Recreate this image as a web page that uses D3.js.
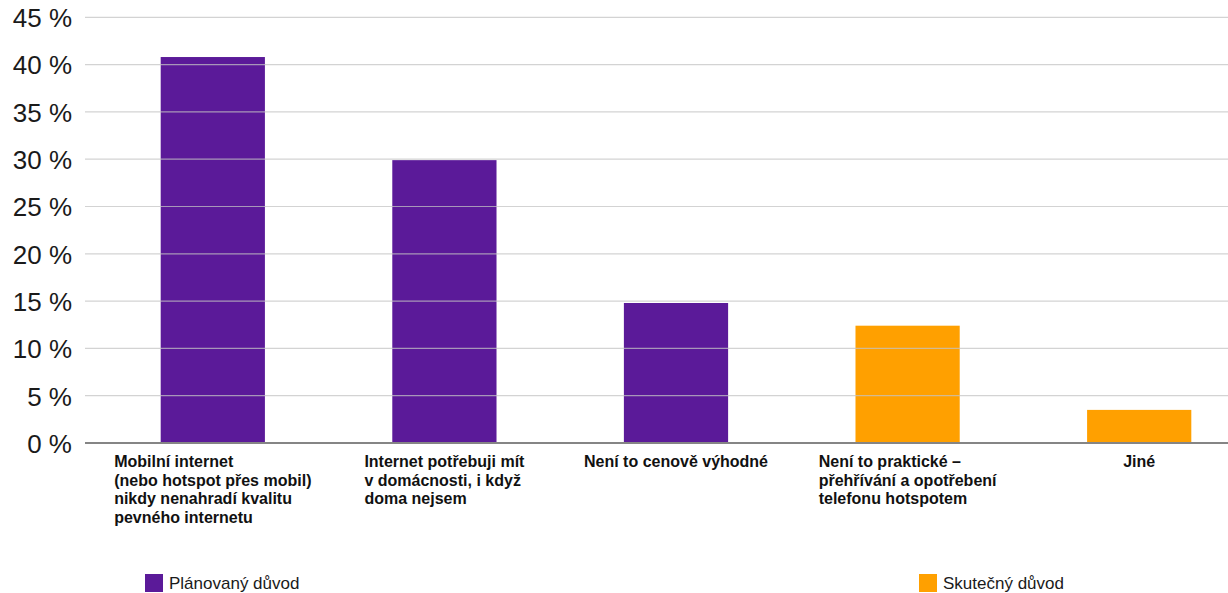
<!DOCTYPE html>
<html lang="cs">
<head>
<meta charset="utf-8">
<script src="https://cdn.jsdelivr.net/npm/d3@7"></script>
<style>
  html, body { margin: 0; padding: 0; background: #fff; }
  svg { display: block; font-family: "Liberation Sans", Arial, Helvetica, sans-serif; }
</style>
</head>
<body>
<svg id="chart" width="1228" height="593"></svg>
<script>
// Category labels, one entry per line of the wrapped label
const categories = [
  ["Mobilní internet", "(nebo hotspot přes mobil)", "nikdy nenahradí kvalitu", "pevného internetu"],
  ["Internet potřebuji mít", "v domácnosti, i když", "doma nejsem"],
  ["Není to cenově výhodné"],
  ["Není to praktické –", "přehřívání a opotřebení", "telefonu hotspotem"],
  ["Jiné"]
];
// Share of respondents (%)
const values = [40.8, 29.9, 14.8, 12.4, 3.5];
// Which reason type each bar belongs to
const seriesOf = ["Plánovaný důvod", "Plánovaný důvod", "Plánovaný důvod", "Skutečný důvod", "Skutečný důvod"];
const seriesNames = ["Plánovaný důvod", "Skutečný důvod"];
const yTicks = [0, 5, 10, 15, 20, 25, 30, 35, 40, 45];

const color = d3.scaleOrdinal().domain(seriesNames).range(["#5b1a99", "#ffa000"]);

const svg = d3.select("#chart");
const plotLeft = 85, plotRight = 1228;

const keys = categories.map((c, i) => "c" + i);
const x = d3.scaleBand().domain(keys).range([97, 1255]).paddingInner(0.55).paddingOuter(0.275);
const y = d3.scaleLinear().domain([0, 45]).range([443, 17.3]);

// Bars
svg.append("g").selectAll("rect")
  .data(values)
  .join("rect")
  .attr("x", (d, i) => x(keys[i]))
  .attr("width", x.bandwidth())
  .attr("y", d => y(d))
  .attr("height", d => y(0) - y(d))
  .attr("fill", (d, i) => color(seriesOf[i]));

// Horizontal gridlines (drawn above the bars, semi-transparent)
svg.append("g").selectAll("line")
  .data(yTicks.filter(t => t > 0))
  .join("line")
  .attr("x1", plotLeft).attr("x2", plotRight)
  .attr("y1", d => y(d)).attr("y2", d => y(d))
  .attr("stroke", "#c3c3c3")
  .attr("stroke-opacity", 0.74)
  .attr("stroke-width", 1.2);

// Baseline
svg.append("line")
  .attr("x1", plotLeft).attr("x2", plotRight)
  .attr("y1", y(0)).attr("y2", y(0))
  .attr("stroke", "#858585")
  .attr("stroke-width", 1.8);

// Y axis labels
const yAxis = d3.axisLeft(y).tickValues(yTicks).tickSize(0).tickPadding(0)
  .tickFormat(d => d + " %");
svg.append("g")
  .attr("transform", "translate(72,0)")
  .call(yAxis)
  .call(g => g.select(".domain").remove())
  .call(g => g.selectAll("text")
    .attr("font-family", "'Liberation Sans', Arial, sans-serif")
    .attr("font-size", 26)
    .attr("fill", "#1a1a1a")
    .attr("dy", "0.36em"));

// Category labels: left-aligned lines, block centred under each bar
const labelG = svg.append("g");
categories.forEach((lines, i) => {
  const t = labelG.append("text")
    .attr("font-size", 16)
    .attr("font-weight", "bold")
    .attr("fill", "#111");
  lines.forEach((ln, j) => {
    t.append("tspan").attr("x", 0).attr("y", 467 + j * 18.6).text(ln);
  });
  let w = 0;
  t.selectAll("tspan").each(function () { w = Math.max(w, this.getComputedTextLength()); });
  const cx = x(keys[i]) + x.bandwidth() / 2;
  t.attr("transform", `translate(${cx - w / 2},0)`);
});

// Legend
const legendPos = [145, 919];
const legend = svg.append("g").selectAll("g")
  .data(seriesNames)
  .join("g")
  .attr("transform", (d, i) => `translate(${legendPos[i]},574)`);
legend.append("rect").attr("width", 18).attr("height", 18).attr("fill", d => color(d));
legend.append("text")
  .attr("x", 24).attr("y", 14.5)
  .attr("font-size", 17)
  .attr("fill", "#1a1a1a")
  .text(d => d);
</script>
</body>
</html>
